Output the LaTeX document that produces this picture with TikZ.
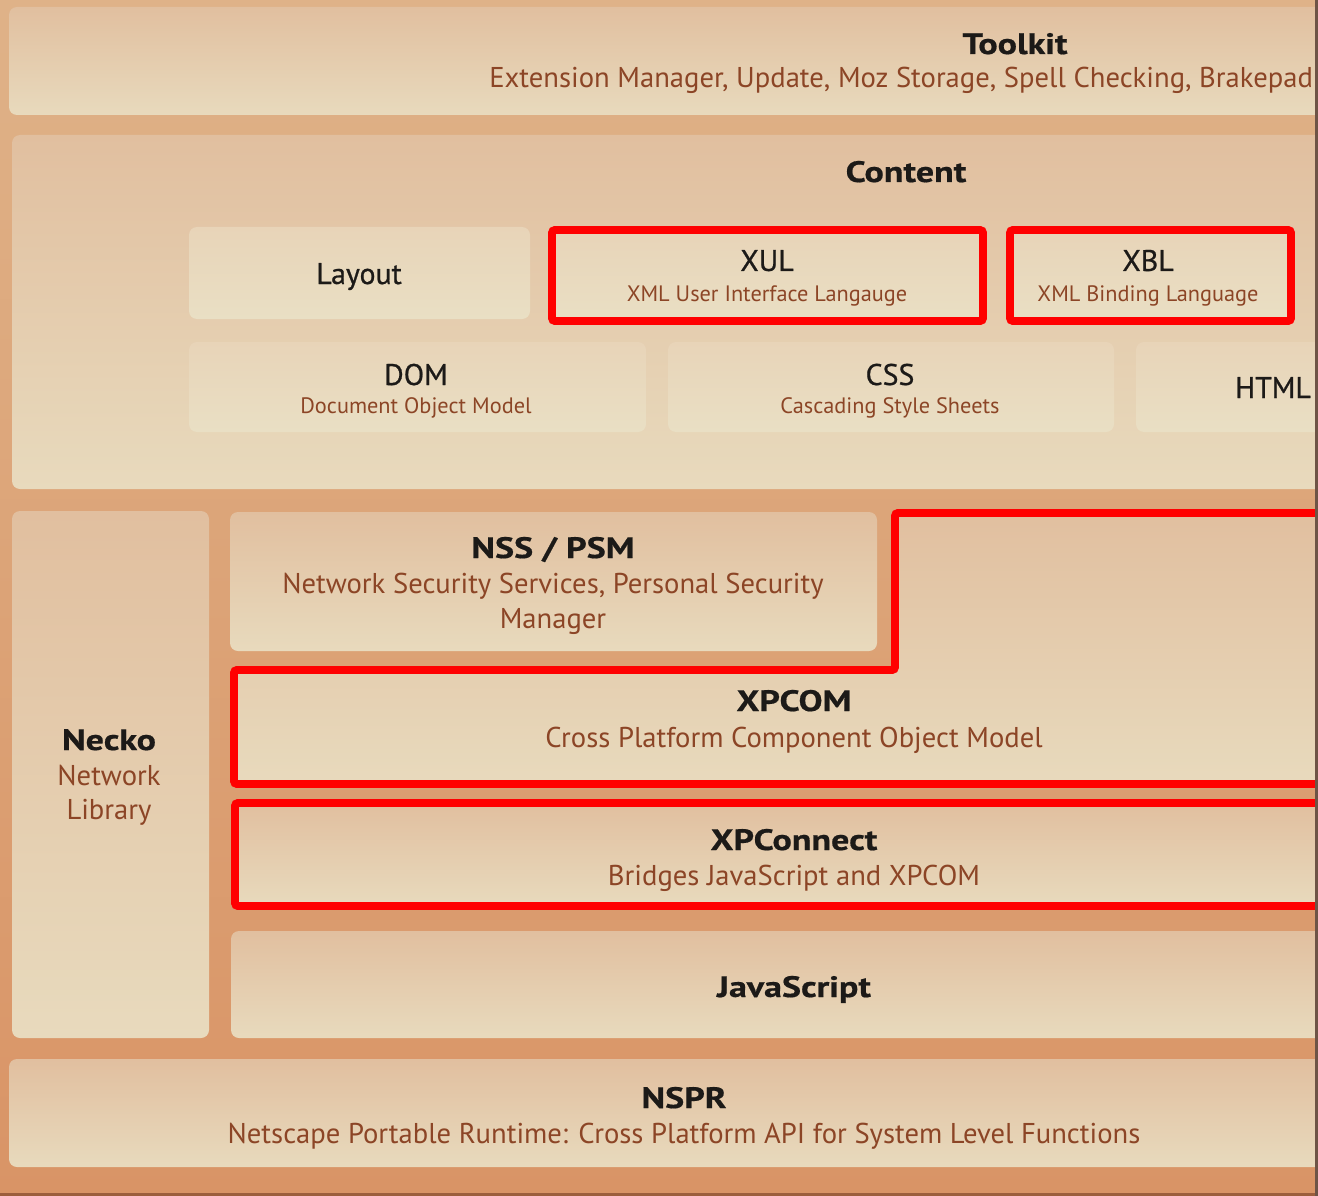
\documentclass[tikz,border=0pt]{standalone}
\usepackage{fontspec}
\setmainfont{PT Sans}
\newfontfamily\hvy{PT Sans}[FakeStretch=1.22, FakeBold=0.6]
\newfontfamily\medf{PT Sans}[FakeBold=0.7]
\definecolor{bgtop}{HTML}{DFB288}
\definecolor{bgbot}{HTML}{D99466}
\definecolor{boxtop}{HTML}{E1BF9F}
\definecolor{boxbot}{HTML}{E8DABD}
\definecolor{intop}{HTML}{E8D4B8}
\definecolor{inbot}{HTML}{E9DFC4}
\definecolor{ttl}{HTML}{1C1A18}
\definecolor{subc}{HTML}{8C4526}
\definecolor{hl}{HTML}{FF0000}
\definecolor{edgeR}{HTML}{6E5446}
\definecolor{edgeB}{HTML}{9C5E3C}
\begin{document}
\begin{tikzpicture}[x=0.02cm,y=-0.02cm,
  layerbox/.style={rounded corners=0.16cm, top color=boxtop, bottom color=boxbot, draw=none},
  innerbox/.style={rounded corners=0.16cm, top color=intop, bottom color=inbot, draw=none},
  hilite/.style={draw=hl, line width=4.5pt, rounded corners=0.06cm},
  ttlB/.style={font=\hvy\fontsize{16.8}{19}\selectfont\bfseries, text=ttl, inner sep=0pt, anchor=base},
  ttlM/.style={font=\medf\fontsize{17}{20}\selectfont, text=ttl, inner sep=0pt, anchor=base},
  subL/.style={font=\fontsize{16.3}{19}\selectfont, text=subc, inner sep=0pt, anchor=base},
  subS/.style={font=\fontsize{12.7}{15}\selectfont, text=subc, inner sep=0pt, anchor=base},
]
\useasboundingbox (0,0) rectangle (1318,1196);
\begin{scope}
\clip (0,0) rectangle (1318,1196);
\shade[top color=bgtop, bottom color=bgbot] (0,0) rectangle (1318,1196);
% layers
\shade[layerbox] (9,7) rectangle (1340,115);
\shade[layerbox] (12,135) rectangle (1340,489);
\shade[innerbox] (189,227) rectangle (530,319);
\shade[innerbox] (552,230) rectangle (983,321);
\shade[innerbox] (1010,230) rectangle (1291,321);
\shade[innerbox] (189,342) rectangle (646,432);
\shade[innerbox] (668,342) rectangle (1114,432);
\shade[innerbox] (1136,342) rectangle (1340,432);
\shade[layerbox] (12,511) rectangle (209,1038);
\shade[layerbox] (230,512) rectangle (877,651);
\shade[top color=boxtop, bottom color=boxbot] (895,512) -- (1340,512) -- (1340,784) -- (234,784) -- (234,670) -- (895,670) -- cycle;
\shade[top color=boxtop, bottom color=boxbot] (235,803) rectangle (1340,906);
\shade[layerbox] (231,931) rectangle (1340,1038);
\shade[layerbox] (9,1059) rectangle (1340,1167);
% highlights
\draw[hilite] (552,230) rectangle (983,321);
\draw[hilite] (1010,230) rectangle (1291,321);
\draw[hilite] (1340,513) -- (895,513) -- (895,670) -- (234,670) -- (234,784) -- (1340,784);
\draw[hilite] (1340,803) -- (235,803) -- (235,906) -- (1340,906);
% texts
\node[ttlB] (toolkit) at (1015,54) {Toolkit};
\node[subL, anchor=base west] (toolkitsub) at (489,88) {Extension Manager, Update, Moz Storage, Spell Checking, Brakepad C};
\node[ttlB] (content) at (906,182) {Content};
\node[ttlM] (layout) at (359,284) {Layout};
\node[ttlM] (xul) at (767,271) {XUL};
\node[subS] (xulsub) at (767,301) {XML User Interface Langauge};
\node[ttlM] (xbl) at (1148,271) {XBL};
\node[subS] (xblsub) at (1148,301) {XML Binding Language};
\node[ttlM] (dom) at (416,385) {DOM};
\node[subS] (domsub) at (416,413) {Document Object Model};
\node[ttlM] (css) at (890,385) {CSS};
\node[subS] (csssub) at (890,413) {Cascading Style Sheets};
\node[ttlM] (html) at (1273,398) {HTML};
\node[ttlB] (nss) at (553,558) {NSS / PSM};
\node[subL] (nsssub1) at (553,593) {Network Security Services, Personal Security};
\node[subL] (nsssub2) at (553,628) {Manager};
\node[ttlB] (necko) at (109,750) {Necko};
\node[subL] (neckosub1) at (109,785) {Network};
\node[subL] (neckosub2) at (109,819) {Library};
\node[ttlB] (xpcom) at (794,711) {XPCOM};
\node[subL] (xpcomsub) at (794,747) {Cross Platform Component Object Model};
\node[ttlB] (xpconnect) at (794,850) {XPConnect};
\node[subL] (xpconnectsub) at (794,885) {Bridges JavaScript and XPCOM};
\node[ttlB] (js) at (794,997) {JavaScript};
\node[ttlB] (nspr) at (684,1108) {NSPR};
\node[subL] (nsprsub) at (684,1143) {Netscape Portable Runtime: Cross Platform API for System Level Functions};
% edges of the cropped image
\fill[edgeB] (0,1193) rectangle (1318,1196);
\fill[edgeR] (1315,0) rectangle (1318,1196);
\end{scope}
\end{tikzpicture}
\end{document}
